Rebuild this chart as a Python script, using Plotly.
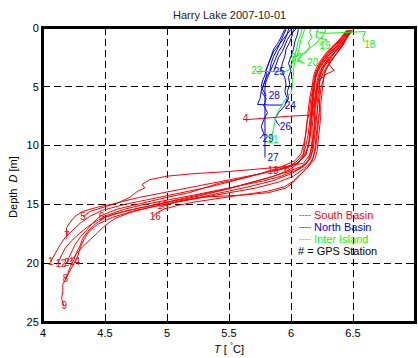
import plotly.graph_objects as go

# ---------------- data: South Basin (red) profiles: temperature T [degC], depth D [m]
r01_D = [0.2,0.7,1.2,1.8,2.4,3.0,3.6,4.2,5.0,6.0,7.0,8.0,9.0,10.0,10.8,11.5,12.0,12.5,13.0,13.5,14.0,14.5,15.0,15.5,16.0,16.6,17.2,17.8,18.4,19.0,19.5,19.9]
r01_T = [6.47,6.44,6.40,6.35,6.30,6.26,6.22,6.20,6.19,6.18,6.17,6.16,6.15,6.14,6.12,6.05,5.90,5.72,5.55,5.35,5.12,4.90,4.66,4.48,4.38,4.30,4.24,4.18,4.14,4.11,4.08,4.06]
r02_D = [0.2,0.8,1.4,2.0,2.6,3.2,3.8,4.5,5.5,6.5,7.5,8.5,9.5,10.5,11.2,11.8,12.3,12.8,13.3,13.8,14.3,14.8,15.3,15.8,16.3,16.9,17.5,18.1,18.7,19.3,19.8,20.1]
r02_T = [6.49,6.45,6.41,6.36,6.31,6.27,6.24,6.22,6.21,6.20,6.20,6.19,6.18,6.17,6.15,6.08,5.95,5.80,5.62,5.45,5.25,5.02,4.78,4.58,4.45,4.36,4.29,4.23,4.18,4.15,4.13,4.11]
r03_D = [0.2,0.6,1.1,1.7,2.3,2.9,3.5,4.1,5.0,6.0,7.0,8.0,9.0,10.0,10.7,11.3,11.8,12.3,12.8,13.2,13.6,14.0,14.4,14.9,15.4,16.0,16.6,17.2,17.8,18.4,19.0,19.5,20.0]
r03_T = [6.46,6.43,6.39,6.33,6.28,6.24,6.21,6.19,6.18,6.16,6.15,6.13,6.12,6.10,6.08,6.03,5.92,5.78,5.60,5.42,5.30,5.18,5.00,4.80,4.60,4.46,4.40,4.35,4.30,4.26,4.23,4.21,4.19]
r04_D = [0.2,0.7,1.3,1.9,2.5,3.1,3.8,4.6,5.5,6.5,7.5,8.5,9.5,10.5,11.3,12.0,12.6,13.1,13.6,14.0,14.4,14.8,15.2,15.7,16.2,16.8,17.4,18.0,18.6,19.2,19.6,19.9]
r04_T = [6.48,6.46,6.43,6.39,6.34,6.30,6.26,6.23,6.22,6.21,6.22,6.21,6.20,6.19,6.17,6.10,6.02,5.90,5.72,5.50,5.28,5.08,4.88,4.70,4.58,4.50,4.44,4.38,4.32,4.27,4.24,4.22]
r05_D = [0.2,0.8,1.4,2.0,2.7,3.4,4.1,5.0,6.0,7.0,8.0,9.0,10.0,10.8,11.5,12.1,12.6,13.1,13.6,14.1,14.6,15.1,15.6,16.1,16.7,17.3,17.9,18.5,19.1,19.7,20.3,20.9,21.4]
r05_T = [6.45,6.41,6.36,6.31,6.26,6.22,6.20,6.18,6.17,6.16,6.15,6.14,6.12,6.10,6.06,5.98,5.86,5.70,5.52,5.30,5.08,4.85,4.65,4.50,4.42,4.36,4.32,4.30,4.27,4.25,4.22,4.20,4.18]
r06_D = [0.2,0.7,1.2,1.8,2.4,3.0,3.7,4.5,5.5,6.5,7.5,8.5,9.5,10.5,11.2,11.8,12.4,13.0,13.5,14.0,14.5,15.0,15.5,16.1,16.7,17.3,18.0,18.7,19.4,20.0,20.6,21.2,21.8,22.4,23.0,23.7]
r06_T = [6.47,6.44,6.40,6.36,6.31,6.27,6.23,6.21,6.20,6.19,6.18,6.17,6.17,6.16,6.14,6.10,6.00,5.85,5.66,5.45,5.22,4.98,4.75,4.56,4.44,4.37,4.33,4.30,4.28,4.25,4.22,4.19,4.16,4.16,4.15,4.17]
r07_D = [0.2,0.6,1.0,1.6,2.2,2.8,3.4,4.0,5.0,6.0,7.0,8.0,9.0,10.0,10.8,11.5,11.8,12.0,12.2,12.4,12.6,12.9,13.3,13.6,13.9,14.4,14.9,15.2,15.6,16.0,16.5,17.0,17.7]
r07_T = [6.50,6.47,6.44,6.39,6.34,6.29,6.25,6.23,6.21,6.20,6.19,6.19,6.18,6.17,6.15,6.10,5.95,5.75,5.50,5.20,5.00,4.86,4.80,4.82,4.76,4.70,4.60,4.45,4.32,4.26,4.22,4.19,4.19]
r08_D = [0.2,0.8,1.4,2.0,2.6,3.2,3.9,4.7,5.6,6.6,7.6,8.6,9.6,10.4,11.0,11.5,12.0,12.4,12.8,13.2,13.6,14.0,14.4,14.8,15.2,15.6,16.1]
r08_T = [6.46,6.42,6.37,6.32,6.27,6.23,6.20,6.19,6.18,6.17,6.16,6.16,6.15,6.13,6.10,6.05,5.92,5.75,5.55,5.35,5.15,4.95,4.78,4.62,4.50,4.38,4.32]
r09_D = [0.2,0.7,1.3,1.9,2.5,3.1,3.7,4.4,5.3,6.3,7.3,8.3,9.3,10.2,11.0,11.6,12.1,12.6,13.0,13.4,13.8,14.2,14.6,15.0,15.4,15.8,16.1]
r09_T = [6.48,6.45,6.41,6.37,6.32,6.28,6.25,6.23,6.23,6.22,6.21,6.20,6.19,6.18,6.16,6.12,6.04,5.92,5.78,5.60,5.42,5.22,5.02,4.82,4.66,4.54,4.47]
r10_D = [0.2,0.8,1.4,2.0,2.6,3.2,3.8,4.5,5.5,6.5,7.5,8.5,9.5,10.5,11.2,12.0,12.6,13.2,13.6,14.0,14.2,14.3,14.4,14.7,15.0,15.2]
r10_T = [6.47,6.45,6.42,6.38,6.34,6.30,6.27,6.26,6.25,6.24,6.24,6.23,6.22,6.21,6.19,6.12,6.06,6.01,5.96,5.82,5.62,5.42,5.26,5.10,5.00,4.95]
r11_D = [0.2,0.7,1.2,1.8,2.4,3.0,3.6,4.3,5.2,6.2,7.2,8.2,9.2,10.2,11.0,11.8,12.4,13.0,13.5,13.9,14.2,14.5,14.8,15.1,15.4,15.7,16.1]
r11_T = [6.49,6.46,6.43,6.39,6.35,6.31,6.28,6.26,6.24,6.23,6.23,6.22,6.21,6.20,6.18,6.14,6.08,6.02,5.95,5.80,5.60,5.40,5.22,5.08,4.98,4.92,4.88]
r12_D = [0.2,0.8,1.4,2.0,2.6,3.2,3.8,4.5,5.5,6.5,7.5,8.5,9.5,10.3,11.0,11.5,11.9,12.2]
r12_T = [6.46,6.43,6.38,6.33,6.28,6.24,6.21,6.19,6.18,6.17,6.17,6.16,6.15,6.13,6.10,6.05,5.96,5.86]
r13_D = [0.2,0.6,1.1,1.7,2.3,2.9,3.5,4.2,5.0,6.0,7.0,8.0,9.0,10.0,10.7,11.3,11.8,12.1]
r13_T = [6.45,6.42,6.38,6.32,6.27,6.23,6.20,6.18,6.17,6.15,6.14,6.13,6.12,6.11,6.10,6.05,5.98,5.95]
r14_D = [0.2,0.7,1.2,1.8,2.4,3.0,3.4,3.6,4.0,4.6,5.4,6.2,7.0,7.4,7.5,7.6,7.7,7.8]
r14_T = [6.47,6.44,6.41,6.37,6.33,6.30,6.33,6.35,6.27,6.22,6.20,6.19,6.18,6.17,5.99,5.85,5.75,5.63]

red_labels   = ["1", "12", "2", "14", "8", "9", "7", "5", "6", "15", "16", "13", "10", "4"]
red_label_T  = [4.04, 4.10, 4.17, 4.21, 4.16, 4.15, 4.17, 4.30, 4.45, 4.92, 4.86, 5.81, 5.93, 5.61]
red_label_D  = [19.9, 20.1, 20.0, 19.9, 21.4, 23.7, 17.7, 16.1, 16.1, 15.2, 16.1, 12.2, 12.1, 7.8]

# ---------------- North Basin (blue)
b27_D = [0.1,0.5,1.0,1.5,2.0,2.5,3.0,3.5,4.0,4.5,5.0,6.0,7.0,8.0,9.0,10.0,11.0]
b27_T = [5.98,5.97,5.95,5.93,5.90,5.88,5.86,5.84,5.82,5.80,5.79,5.79,5.79,5.79,5.79,5.79,5.79]
b29_D = [0.1,0.6,1.2,1.8,2.4,3.0,3.6,4.2,4.8,5.4,6.0,6.6,7.2,7.8,8.4,9.0,9.4]
b29_T = [5.95,5.93,5.90,5.86,5.84,5.82,5.80,5.80,5.78,5.76,5.80,5.78,5.81,5.78,5.76,5.78,5.75]
b26_D = [0.1,0.6,1.2,1.8,2.4,3.0,3.6,4.2,4.8,5.4,6.0,6.6,7.2,7.7,8.1,8.3]
b26_T = [6.02,6.01,5.99,5.96,5.95,5.93,5.92,5.95,5.96,5.95,5.97,5.95,5.90,5.87,5.89,5.91]
b24_D = [0.1,0.6,1.2,1.8,2.4,3.0,3.6,4.2,4.8,5.4,6.0,6.5,6.55,6.55]
b24_T = [5.96,5.94,5.91,5.89,5.86,5.84,5.83,5.80,5.78,5.76,5.75,5.73,5.83,5.93]
b25_D = [0.1,0.5,1.0,1.5,2.0,2.5,3.0,3.4,3.7]
b25_T = [6.04,6.00,5.97,5.95,5.93,5.90,5.88,5.87,5.86]
b28_D = [0.1,0.5,1.0,1.5,2.0,2.5,3.0,3.5,4.0,4.5,5.0,5.4,5.8]
b28_T = [6.00,5.97,5.93,5.90,5.86,5.84,5.82,5.80,5.79,5.77,5.76,5.78,5.80]
b21_D = [0.1,0.6,1.2,1.8,2.4,3.0,3.6,4.2,4.8,5.4,6.0,6.4]
b21_T = [6.06,6.05,6.03,6.02,6.00,5.98,6.00,5.98,5.99,5.97,5.98,5.96]

blue_labels  = ["27", "29", "26", "24", "25", "28"]
blue_label_T = [5.81, 5.77, 5.91, 5.95, 5.86, 5.82]
blue_label_D = [11.1, 9.5, 8.5, 6.7, 3.75, 5.8]

# ---------------- Inter Island (green)
g18_D = [0.3,0.45,0.4,0.35,0.3,0.8,1.2]
g18_T = [6.20,6.28,6.40,6.52,6.60,6.58,6.59]
g19_D = [0.0,0.4,0.8,0.9,1.0,1.2,1.5]
g19_T = [6.22,6.21,6.20,6.25,6.29,6.26,6.23]
g20_D = [0.0,0.5,0.9,1.3,1.8,2.3,2.8,3.0]
g20_T = [6.28,6.27,6.24,6.20,6.14,6.09,6.05,6.11]
g22_D = [0.0,0.4,0.8,1.2,1.6,2.0,2.3,2.5]
g22_T = [6.16,6.15,6.17,6.14,6.15,6.13,6.07,6.00]
g23_D = [0.0,0.5,1.0,1.5,2.0,2.5,3.0,3.4,3.6,3.7,3.7,3.7]
g23_T = [6.09,6.08,6.06,6.05,6.04,6.02,6.01,5.99,5.98,5.95,5.85,5.72]
g21_D = [0.0,0.5,1.0,1.5,2.0,2.5,3.0,3.5,4.0,4.5,5.0,5.5,6.0,6.5,7.0,7.5,8.0,8.5,9.0,9.4]
g21_T = [6.11,6.10,6.08,6.07,6.06,6.04,6.03,6.02,6.02,6.01,6.01,6.00,5.96,5.93,5.90,5.88,5.87,5.86,5.85,5.83]

green_labels  = ["18", "19", "20", "22", "23", "21"]
green_label_T = [6.59, 6.23, 6.13, 6.00, 5.68, 5.81]
green_label_D = [1.45, 1.6, 3.0, 2.6, 3.7, 9.55]

x_range = [4, 7]
y_range = [25, 0]
x_ticks = [4, 4.5, 5, 5.5, 6, 6.5, 7]
x_tick_labels = ["4", "4.5", "5", "5.5", "6", "6.5", "7"]
y_ticks = [0, 5, 10, 15, 20, 25]

RED, BLUE, GREEN = "#ff0000", "#0000ff", "#00ff00"
FONT = "Liberation Sans, Arial, sans-serif"

red_profiles = [(r01_T, r01_D), (r02_T, r02_D), (r03_T, r03_D), (r04_T, r04_D), (r05_T, r05_D),
                (r06_T, r06_D), (r07_T, r07_D), (r08_T, r08_D), (r09_T, r09_D), (r10_T, r10_D),
                (r11_T, r11_D), (r12_T, r12_D), (r13_T, r13_D), (r14_T, r14_D)]
blue_profiles = [(b27_T, b27_D), (b29_T, b29_D), (b26_T, b26_D), (b24_T, b24_D),
                 (b25_T, b25_D), (b28_T, b28_D), (b21_T, b21_D)]
green_profiles = [(g18_T, g18_D), (g19_T, g19_D), (g20_T, g20_D), (g22_T, g22_D),
                  (g23_T, g23_D), (g21_T, g21_D)]

fig = go.Figure()
for profs, col in [(red_profiles, RED), (blue_profiles, BLUE), (green_profiles, GREEN)]:
    for T, D in profs:
        fig.add_trace(go.Scatter(x=T, y=D, mode="lines", line=dict(color=col, width=1),
                                 showlegend=False, hoverinfo="skip"))

for labs, lt, ld, col in [(red_labels, red_label_T, red_label_D, RED),
                          (blue_labels, blue_label_T, blue_label_D, BLUE),
                          (green_labels, green_label_T, green_label_D, GREEN)]:
    fig.add_trace(go.Scatter(x=lt, y=ld, mode="text", text=labs, textposition="middle right",
                             textfont=dict(color=col, size=10, family=FONT),
                             showlegend=False, hoverinfo="skip"))

# axes box (MATLAB-style frame), following the axis ranges
box_x = [x_range[0], x_range[1], x_range[1], x_range[0], x_range[0]]
box_y = [y_range[1], y_range[1], y_range[0], y_range[0], y_range[1]]
fig.add_trace(go.Scatter(x=box_x, y=box_y, mode="lines", line=dict(color="black", width=2),
                         cliponaxis=False, showlegend=False, hoverinfo="skip"))

axis_common = dict(showline=True, linecolor="#000000", linewidth=2, mirror="ticks",
                   ticks="inside", ticklen=4, tickcolor="#000000", tickwidth=1,
                   showgrid=True, gridcolor="#000000", gridwidth=1, griddash="7px,4px",
                   zeroline=False, automargin=False,
                   tickfont=dict(size=11, color="black", family=FONT))

fig.update_xaxes(range=x_range, tickvals=x_ticks, ticktext=x_tick_labels, **axis_common)
fig.update_yaxes(range=y_range, tickvals=y_ticks, **axis_common)

ann = []
ann.append(dict(text="Harry Lake 2007-10-01", x=0.5, y=1.044, xref="paper", yref="paper",
                xanchor="center", yanchor="middle",
                showarrow=False, font=dict(size=11, color="#222", family=FONT)))
ann.append(dict(text="<i>T</i> [ <sup>°</sup>C]", x=0.5, y=-0.088, xref="paper", yref="paper",
                xanchor="center", yanchor="middle",
                showarrow=False, font=dict(size=11, color="black", family=FONT)))
ann.append(dict(text="Depth  <i>D</i> [m]", x=-0.081, y=0.459, xref="paper", yref="paper",
                xanchor="center", yanchor="middle",
                showarrow=False, textangle=-90, font=dict(size=11, color="black", family=FONT)))
legend_rows = [("South Basin", RED, 0.364), ("North Basin", BLUE, 0.323), ("Inter Island", GREEN, 0.282)]
for name, col, yy in legend_rows:
    ann.append(dict(text="----", x=0.683, y=yy, xref="paper", yref="paper", xanchor="left",
                    yanchor="middle", showarrow=False, font=dict(size=9, color=col, family=FONT)))
    ann.append(dict(text=name, x=0.722, y=yy, xref="paper", yref="paper", xanchor="left",
                    yanchor="middle", showarrow=False, font=dict(size=11, color=col, family=FONT)))
ann.append(dict(text="# = GPS Station", x=0.680, y=0.241, xref="paper", yref="paper", xanchor="left",
                yanchor="middle", showarrow=False, font=dict(size=11, color="black", family=FONT)))

fig.update_layout(width=418, height=358, margin=dict(l=43, r=3, t=28, b=36),
                  plot_bgcolor="white", paper_bgcolor="white", annotations=ann,
                  font=dict(family=FONT))

post = ("document.body.style.margin='0';document.body.style.overflow='hidden';"
        "Plotly.relayout('{plot_id}', {width: 418, height: 358});")
fig.write_html("out.html", post_script=post,
               config={"responsive": False, "displayModeBar": False})
